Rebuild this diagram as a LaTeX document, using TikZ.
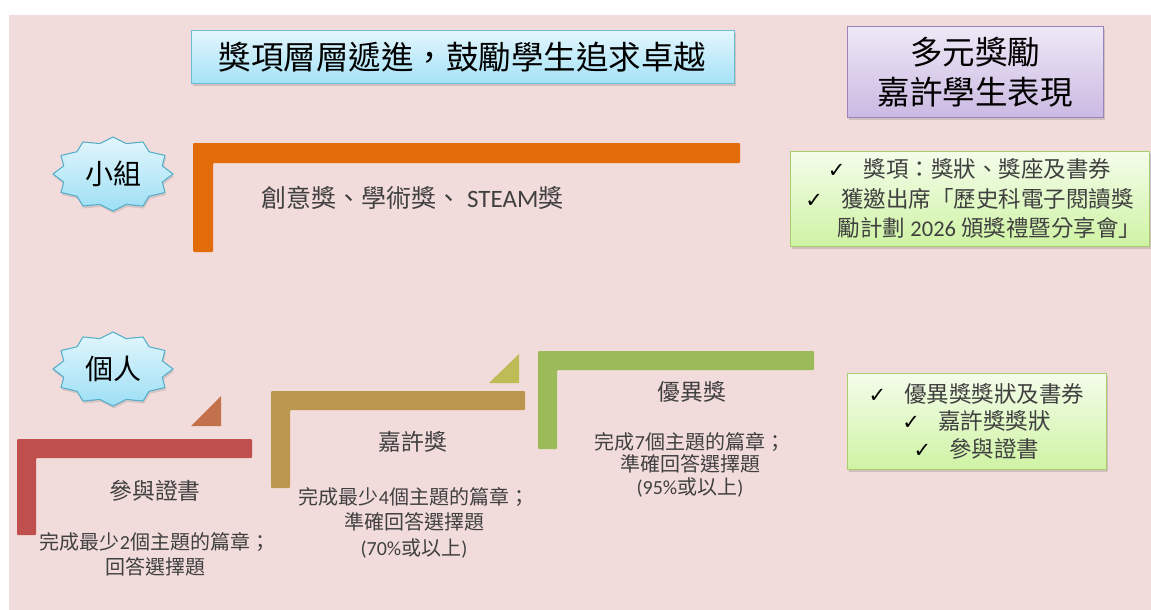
\documentclass[tikz,border=0pt]{standalone}
\usepackage{fontspec}
\setmainfont{Noto Sans CJK TC}
\newfontfamily\latinfont{Carlito}
\newfontfamily\symfont{DejaVu Sans}
\usetikzlibrary{shadows}

\definecolor{bgpink}{HTML}{F2DCDB}
\definecolor{txtgray}{HTML}{404040}
\definecolor{titletop}{HTML}{E3F6FD}
\definecolor{titlebot}{HTML}{A5E2F7}
\definecolor{titleline}{HTML}{6CBCD6}
\definecolor{purptop}{HTML}{EEE8F6}
\definecolor{purpbot}{HTML}{CBB9E2}
\definecolor{purpline}{HTML}{9A82BA}
\definecolor{greentop}{HTML}{F4FDEB}
\definecolor{greenbot}{HTML}{CFF3A4}
\definecolor{greenline}{HTML}{A8CC6E}
\definecolor{sealtop}{HTML}{E2F6FC}
\definecolor{sealbot}{HTML}{9EDFF5}
\definecolor{sealline}{HTML}{52AECB}
\definecolor{orangebar}{HTML}{E36C0A}
\definecolor{redbar}{HTML}{C0504D}
\definecolor{goldbar}{HTML}{BA964F}
\definecolor{greenbar}{HTML}{9BBB59}
\definecolor{triA}{HTML}{C3714C}
\definecolor{triB}{HTML}{BDBC57}

\newcommand{\setfs}[2]{\fontsize{#1}{#2}\selectfont}
\newcommand{\chk}{{\symfont\color{black}\fontsize{21}{21}\selectfont ✓}\hspace{18pt}}

\begin{document}
\begin{tikzpicture}[x=1pt,y=-1pt,
    box/.style={draw,line width=1pt,inner sep=0pt,align=center,
        drop shadow={shadow xshift=1.5pt,shadow yshift=-2.5pt,opacity=.3}},
    seal/.style={draw=sealline,line width=1pt,top color=sealtop,bottom color=sealbot,
        drop shadow={shadow xshift=1pt,shadow yshift=-2.5pt,opacity=.25}},
    lvl/.style={text=txtgray,font=\setfs{22.8}{27}},
    req/.style={text=txtgray,align=center}]
    \useasboundingbox (0,0) rectangle (1151,610);
    \fill[white] (0,0) rectangle (1151,610);
    \fill[bgpink] (9,15) rectangle (1151,610);

    % headings
    \node[box,draw=titleline,top color=titletop,bottom color=titlebot,
        minimum width=543pt,minimum height=52pt,font=\setfs{32.5}{39}] (title) at (462.5,57)
        {獎項層層遞進，鼓勵學生追求卓越};
    \node[box,draw=purpline,top color=purptop,bottom color=purpbot,
        minimum width=256pt,minimum height=90pt,font=\setfs{32.5}{40}] (praise) at (975,72)
        {多元獎勵\\嘉許學生表現};

    % seals
    \foreach \nm/\cx/\cy/\txt in {grp/113/174/小組, ind/113/369/個人} {
        \begin{scope}[shift={(\cx,\cy)}]
            \filldraw[seal] (0:60 and 37) \foreach \i in {1,...,23} {
                -- ({\i*15}:{60*(1-0.15*mod(\i,2))} and {37*(1-0.15*mod(\i,2))}) } -- cycle;
        \end{scope}
        \node[font=\setfs{28}{32}] (\nm) at (\cx,\cy) {\txt};
    }

    % steps
    \foreach \col/\xa/\ya/\xb/\yb/\t in {orangebar/193/143/740/252/20, redbar/17/439/252/535/19,
        goldbar/271/391/525/488/19, greenbar/538/351/814/449/19} {
        \fill[\col,rounded corners=1pt] (\xa,\ya) -- (\xb,\ya) -- (\xb,\ya+\t) -- (\xa+\t,\ya+\t)
            -- (\xa+\t,\yb) -- (\xa,\yb) -- cycle;
    }
    \fill[triA] (191,426) -- (221,426) -- (221,396) -- cycle;
    \fill[triB] (489,383) -- (519,383) -- (519,354) -- cycle;

    % group awards
    \node[anchor=west,text=txtgray,font=\setfs{25}{30}] (grpaward) at (258,198)
        {創意獎、學術獎、 {\latinfont STEAM}獎};
    \node[box,draw=greenline,top color=greentop,bottom color=greenbot,text=txtgray,
        minimum width=359pt,minimum height=95pt,font=\setfs{22.5}{29.5}] (grpprize) at (969.5,198.5)
        {\chk 獎項：獎狀、獎座及書券\\
         \chk 獲邀出席「歷史科電子閱讀獎\\
         \hspace*{40pt}勵計劃 {\latinfont 2026} 頒獎禮暨分享會」};

    % individual awards
    \node[lvl] (cert) at (155,491) {參與證書};
    \node[req,font=\setfs{20}{25}] (certreq) at (155,554.5)
        {完成最少{\latinfont 2}個主題的篇章；\\回答選擇題};
    \node[lvl] (merit) at (413,442) {嘉許獎};
    \node[req,font=\setfs{20}{25.5}] (meritreq) at (414,522.5)
        {完成最少{\latinfont 4}個主題的篇章；\\準確回答選擇題\\{\latinfont (70\%}或以上{\latinfont )}};
    \node[lvl] (dist) at (692,392) {優異獎};
    \node[req,font=\setfs{20}{22.5}] (distreq) at (690,464.5)
        {完成{\latinfont 7}個主題的篇章；\\準確回答選擇題\\{\latinfont (95\%}或以上{\latinfont )}};
    \node[box,draw=greenline,top color=greentop,bottom color=greenbot,text=txtgray,
        minimum width=259pt,minimum height=96pt,font=\setfs{22.5}{27.5}] (indprize) at (976.5,421)
        {\chk 優異獎獎狀及書券\\ \chk 嘉許獎獎狀\\ \chk 參與證書};
\end{tikzpicture}
\end{document}
